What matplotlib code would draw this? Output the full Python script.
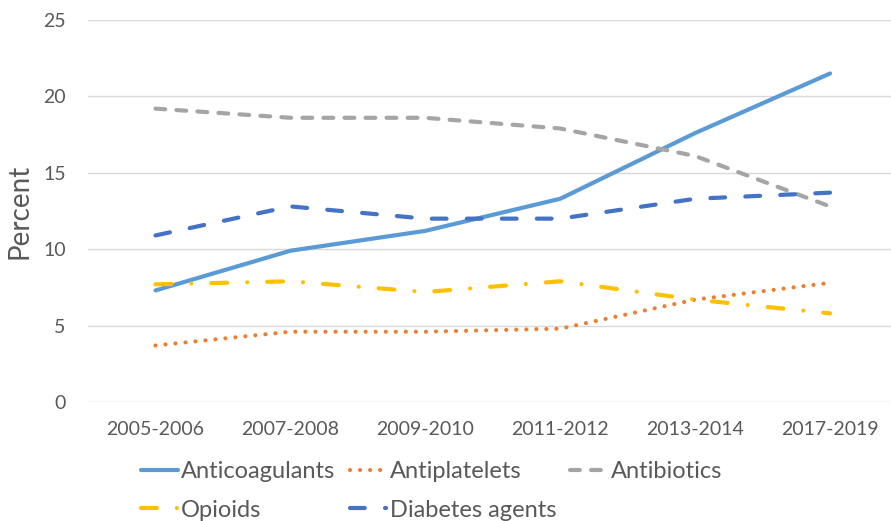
import matplotlib.pyplot as plt

plt.rcParams['font.family'] = ['Lato', 'DejaVu Sans']

periods = ['2005-2006', '2007-2008', '2009-2010', '2011-2012', '2013-2014', '2017-2019']

anticoagulants = [7.3, 9.9, 11.2, 13.3, 17.6, 21.5]
antiplatelets = [3.7, 4.6, 4.6, 4.8, 6.7, 7.8]
antibiotics = [19.2, 18.6, 18.6, 17.9, 16.1, 12.8]
opioids = [7.7, 7.9, 7.2, 7.9, 6.7, 5.8]
diabetes_agents = [10.9, 12.8, 12.0, 12.0, 13.3, 13.7]

text_col = '#595959'
grid_col = '#d9d9d9'

fig = plt.figure(figsize=(8.91, 5.21), dpi=100)
ax = fig.add_axes([88 / 891, 1 - 402 / 521, 809.5 / 891, 382 / 521])

x = list(range(len(periods)))
lw = 3

# order of drawing follows the Excel series order
h_anti, = ax.plot(x, anticoagulants, color='#5B9BD5', lw=lw,
                  solid_capstyle='round', label='Anticoagulants')
h_plat, = ax.plot(x, antiplatelets, color='#ED7D31', lw=lw,
                  linestyle=(0, (0.01, 2.4)), dash_capstyle='round',
                  label='Antiplatelets')
h_bio, = ax.plot(x, antibiotics, color='#A5A5A5', lw=lw,
                 linestyle=(0, (2.35, 2.7)), dash_capstyle='round',
                 label='Antibiotics')
h_opi, = ax.plot(x, opioids, color='#FFC000', lw=lw,
                 linestyle=(0, (3.8, 4.8, 0.01, 4.8)), dash_capstyle='round',
                 label='Opioids')
h_dia, = ax.plot(x, diabetes_agents, color='#4472C4', lw=lw,
                 linestyle=(0, (3.55, 4.85)), dash_capstyle='round',
                 label='Diabetes agents')

ax.set_xlim(-0.5, len(periods) - 0.5)
ax.set_ylim(0, 25)
ax.set_yticks([0, 5, 10, 15, 20, 25])
ax.set_xticks(x)
ax.set_xticklabels(periods)

ax.grid(axis='y', color=grid_col, lw=1)
ax.set_axisbelow(True)
for s in ax.spines.values():
    s.set_visible(False)

ax.tick_params(axis='y', length=0, pad=16, labelsize=14, labelcolor=text_col)
ax.tick_params(axis='x', length=0, pad=14, labelsize=14, labelcolor=text_col)
ax.set_ylabel('Percent', fontsize=20, color=text_col, labelpad=8)

# matplotlib fills legend column by column
handles = [h_anti, h_opi, h_plat, h_dia, h_bio]
fig.legend(handles=handles, labels=[h.get_label() for h in handles],
           ncol=3, loc='upper left', bbox_to_anchor=(141 / 891, 1 - 461 / 521),
           frameon=False, fontsize=17, labelcolor=text_col,
           handlelength=1.55, handletextpad=0.15, columnspacing=0.6,
           labelspacing=0.75, borderpad=0, borderaxespad=0)

fig.savefig('out.png', dpi=100)
